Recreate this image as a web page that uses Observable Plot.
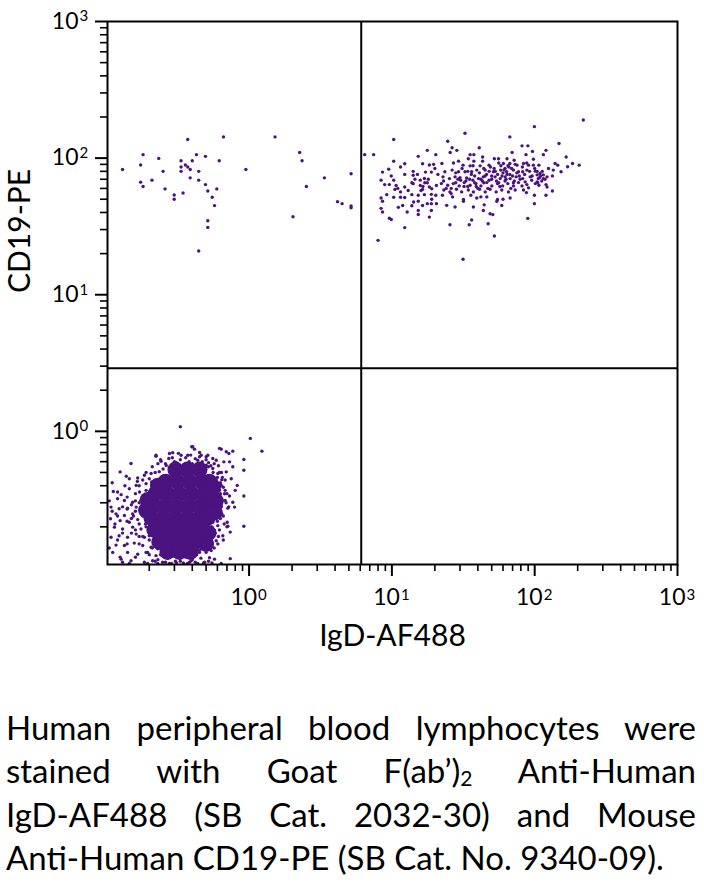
<!DOCTYPE html>
<html>
<head>
<meta charset="utf-8">
<script src="https://cdn.jsdelivr.net/npm/d3@7"></script>
<script src="https://cdn.jsdelivr.net/npm/@observablehq/plot@0.6"></script>
<style>
  html, body { margin: 0; padding: 0; background: #fff; }
  #chart svg { display: block; }
  .cap { width: 690px; margin: 42px 0 0 6px; font-family: Lato, sans-serif; font-size: 33px; line-height: 43.3px; color: #000; }
  .cap div { height: 43.3px; text-align: justify; text-align-last: justify; white-space: nowrap; }
  .cap div.last { text-align-last: left; }
  .sub { font-size: 21px; line-height: 0; vertical-align: -3px; }
</style>
</head>
<body>
<div id="chart"></div>
<div class="cap">
  <div>Human peripheral blood lymphocytes were</div>
  <div>stained with Goat F(ab’)<span class="sub">2</span> Anti-Human</div>
  <div>IgD-AF488 (SB Cat. 2032-30) and Mouse</div>
  <div class="last">Anti-Human CD19-PE (SB Cat. No. 9340-09).</div>
</div>
<script>
// ---- axis / tick values ----
const xDomain = [0.102, 1000];
const yDomain = [0.106, 1000];
const majorTicks = [1, 10, 100, 1000];
const minorTicks = [0.2,0.3,0.4,0.5,0.6,0.7,0.8,0.9, 2,3,4,5,6,7,8,9, 20,30,40,50,60,70,80,90, 200,300,400,500,600,700,800,900];
const xLabelValues = [1, 10, 100, 1000];
const yLabelValues = [1, 10, 100, 1000];
const labelExponents = ["0", "1", "2", "3"];
const gateX = 6.1;   // IgD gate
const gateY = 2.9;   // CD19 gate
const xTitle = "IgD-AF488";
const yTitle = "CD19-PE";

// ---- events: [IgD, CD19] ----
const upperLeft = [[0.13,82.6],[0.174,89],[0.181,106],[0.174,66.7],[0.181,62],[0.209,69],[0.233,99.5],[0.25,80],[0.258,59.5],[0.299,53.7],[0.299,50],[0.334,95.7],[0.334,86],[0.334,80],[0.345,55.6],[0.358,89],[0.372,137],[0.372,86],[0.387,82.6],[0.387,71.7],[0.40,95.7],[0.428,106],[0.444,80],[0.444,69],[0.444,20.9],[0.495,103],[0.495,64],[0.514,57.5],[0.514,34.8],[0.514,31.1],[0.552,51.7],[0.573,44.9],[0.594,59.5],[0.618,95.7],[0.662,143],[0.95,82.6],[1.52,143],[2.03,37.2],[2.26,110],[2.35,95.7],[2.52,62],[3.37,71.7],[4.16,48],[4.48,46.4],[5.18,76.8],[5.18,44.7],[5.18,43.3]];

const upperRight = [
[10.3,137],[6.45,106],[7.45,106],[15.3,103],[17.7,114],[20.3,106],[10.3,95],[12.3,91],[11.5,86],[8.6,79],[9.5,83],[14.1,80],[16.4,91],[18.3,89],[19.6,90],[9.9,74],[12.3,76],[14.1,75],[15.1,76],[17.2,79],[18.9,79],[8.4,69],[10.3,69],[13.8,66],[15.8,69],[16.9,71],[17.7,66],[18.3,61.5],[8.9,64],[9.6,64],[10.7,63],[11,60],[11.5,56.6],[10.5,59],[12.3,61.5],[14.1,65],[16.4,59],[15.8,63],[19,59.6],[20.5,63],[9.2,54],[8.4,51],[10.3,51.7],[11.5,51.7],[12.3,51.5],[13.8,54],[15.3,53.5],[16.9,54],[18.9,54.3],[20.3,53.5],[8.6,48.3],[14.2,47.7],[15.3,48.3],[17.7,46.4],[18.9,46.4],[20.5,46.4],[8.4,42.9],[11.1,43.6],[11.9,45],[13.8,44.8],[16.4,45],[8.6,40.3],[12.8,40.3],[15.3,41.4],[18.9,41.4],[15.3,38.7],[9.6,36.3],[9.9,35.5],[18.3,37],[12.3,31],[8,25],
[32.5,152],[24.6,133],[67,143],[26.4,119],[28.5,114],[40.9,119],[25.6,110],[35.3,106],[37.5,106],[43.2,102],[69.5,110],[29.3,95],[34.3,99],[37.5,95],[43.2,95],[52.2,99],[55.8,99],[64,99],[71.8,96.5],[22.4,91.4],[31.5,88.8],[35.3,87.8],[41.5,87.8],[47.9,88.8],[60.4,91.4],[67,91.4],[75.2,88.8],[23.5,79.4],[26.4,81.7],[29.3,79.4],[32.5,79.4],[36.2,79.4],[39.3,81.7],[45,81.7],[51.4,79.4],[57.8,81.7],[63.6,79.4],[71,81.7],[77,79.4],[22.8,72.9],[25.3,70.8],[27.7,72.9],[30.3,68.9],[33.4,71.6],[36.9,68.9],[40.4,70.8],[43.7,72.9],[47.9,68.9],[52.8,72.9],[57.3,70.8],[62.1,72.9],[67.3,70.8],[74.2,72.9],[22.2,65.1],[24.6,63.3],[26.9,65.1],[29.6,62.6],[32.1,66.2],[35.3,63.3],[38.8,65.1],[42,62.6],[46.2,66.2],[50.1,62.6],[54.9,65.1],[59.7,62.6],[64.8,65.1],[71,62.6],[77,66.2],[23.1,58.4],[25.5,56.6],[28.3,59.2],[30.8,56.6],[34.3,58.4],[37.2,56.6],[41.1,59.2],[45,56.6],[48.7,59.2],[53.7,56.6],[58.8,58.4],[65.5,56.6],[73,58.4],[22.6,53.5],[26.6,52],[31.7,49.8],[35.7,53.5],[39.3,51.1],[46.2,52],[54.9,49.8],[67.3,51.1],[24.2,45.1],[27.7,43.9],[31.7,48.3],[37.2,43.9],[44.3,45.5],[54.3,48.3],[58.8,45],[43.7,41.4],[48.7,39.2],[50.9,38.6],[36.2,35.2],[34.8,32.5],[25.5,32.5],[47.2,33.1],[52.2,26.9],[31.5,18.2],[89.5,36.2],
[219,190],[99.5,170],[148,128],[81.5,123],[89.6,123],[96.5,112],[120,114],[86.9,106],[115,106],[166,102],[98,98],[83.5,91.4],[90.5,88.8],[98,88.8],[107,88.8],[139,91.4],[145,88.8],[184,91.4],[205,88.8],[170,86.4],[82.4,79.4],[88.1,81.7],[101,80.3],[104,75.4],[109,77.2],[115,75.4],[135,81.7],[153,79.4],[82.4,70.8],[93,72.9],[106,70.8],[122,72.9],[133,74.1],[85.8,67],[95.3,68.9],[104,67],[115,70.8],[81.5,62.6],[88.1,64],[101,65.1],[107,63.3],[120,64],[83.5,58.4],[90.5,60.6],[87.5,55.9],[122,61.5],[133,57.4],[99.5,53.5],[120,53.5],[99.5,46.4],
[58,88],[62,84],[66,86],[60,78],[64,76],[70,74],[55,76],[52,84],[48,80],[45,74],[42,70],[38,66],[34,62],[40,60],[30,72],[28,66],[26,60],[33,68],[36,76],[44,66],[50,70],[56,66],[62,68],[68,60],[72,68],[78,74],[17,66],[16.5,62],[18,70],[16,58],[108,72],[112,68],[110,74],[104,80],[118,70],
[20,84],[21,76],[23,68],[24,60],[27,92],[28,78],[29,70],[31,84],[32,62],[34,80],[35,70],[37,88],[38,74],[39,62],[41,78],[43,68],[44,84],[46,76],[47,60],[49,86],[50,74],[53,80],[54,68],[56,92],[57,62],[59,74],[61,82],[63,70],[65,88],[67,76],[69,84],[71,66],[73,90],[75,78],[79,70],[82,86],[85,76],[88,92],[92,80],[96,74],[100,84],[105,66],[113,80],[125,84],[14.5,70],[13,58],[19,50],[26,55],[42,52],[60,50]
];

// dense core of the double-negative population (drawn as large overlapping dots)
const lowerLeftCore = [
[0.305,0.525],[0.370,0.525],[0.450,0.525],
[0.260,0.428],[0.315,0.428],[0.382,0.428],[0.464,0.428],[0.528,0.428],
[0.221,0.349],[0.268,0.349],[0.325,0.349],[0.395,0.349],[0.480,0.349],[0.546,0.349],
[0.214,0.285],[0.260,0.285],[0.315,0.285],[0.382,0.285],[0.464,0.285],[0.546,0.285],
[0.207,0.233],[0.251,0.233],[0.305,0.233],[0.370,0.233],[0.450,0.233],[0.512,0.233],
[0.217,0.190],[0.263,0.190],[0.320,0.190],[0.388,0.190],[0.464,0.190],
[0.235,0.155],[0.286,0.155],[0.347,0.155],[0.421,0.155],
[0.268,0.131],[0.325,0.131],[0.388,0.131],
[0.585,0.31],[0.575,0.255],[0.19,0.265],[0.195,0.315],[0.52,0.18],[0.56,0.39],[0.23,0.4],[0.5,0.15]
];

const lowerLeftSpread = [
[0.33,1.08],[0.292,0.697],[0.223,0.669],[0.242,0.604],[0.149,0.581],[0.274,0.633],[0.125,0.505],[0.138,0.469],[0.166,0.456],[0.185,0.477],[0.206,0.491],[0.208,0.426],[0.162,0.402],[0.145,0.38],[0.112,0.363],[0.127,0.344],[0.171,0.36],[0.12,0.321],[0.134,0.312],[0.153,0.303],[0.175,0.312],[0.108,0.279],[0.123,0.271],[0.141,0.274],[0.162,0.279],[0.117,0.249],[0.134,0.242],[0.153,0.249],[0.175,0.253],[0.107,0.229],[0.125,0.222],[0.145,0.216],[0.166,0.226],[0.114,0.199],[0.13,0.193],[0.153,0.199],[0.175,0.193],[0.108,0.168],[0.123,0.172],[0.141,0.168],[0.162,0.177],[0.185,0.168],[0.117,0.147],[0.134,0.146],[0.157,0.152],[0.18,0.146],[0.206,0.142],[0.111,0.13],[0.141,0.13],[0.166,0.126],[0.195,0.13],[0.223,0.123],[0.127,0.116],[0.149,0.113],[0.185,0.11],[0.211,0.113],[0.145,0.108],[0.195,0.108],[0.229,0.108],[0.248,0.11],[0.277,0.108],
[1.02,0.888],[1.23,0.716],[0.638,0.741],[0.692,0.709],[0.722,0.689],[0.769,0.716],[0.397,0.771],[0.415,0.741],[0.462,0.669],[0.514,0.669],[0.589,0.615],[0.666,0.598],[0.73,0.598],[0.919,0.622],[0.919,0.519],[0.769,0.55],[0.692,0.505],[0.644,0.443],[0.826,0.402],[0.80,0.37],[0.73,0.336],[0.919,0.336],[0.681,0.312],[0.769,0.303],[0.791,0.279],[0.71,0.274],[0.644,0.249],[0.703,0.216],[0.919,0.202],[0.71,0.202],[0.604,0.204],[0.738,0.183],[0.655,0.172],[0.589,0.158],[0.604,0.15],[0.543,0.134],[0.738,0.117],[0.573,0.116],[0.488,0.11],[0.437,0.108],[0.638,0.108],
[0.372,0.669],[0.437,0.615],[0.501,0.565],[0.557,0.534],[0.604,0.491],[0.589,0.438],[0.638,0.402],[0.621,0.37],[0.673,0.349],[0.621,0.321],[0.638,0.287],[0.604,0.263],[0.589,0.235],[0.557,0.216],[0.573,0.188],[0.528,0.177],[0.501,0.158],[0.488,0.142],[0.45,0.13],[0.415,0.123],[0.393,0.113],[0.528,0.119],
[0.223,0.658],[0.277,0.689],[0.334,0.669],[0.403,0.771],[0.45,0.651],[0.501,0.651],[0.557,0.633],[0.621,0.75],
[0.305,0.112],[0.347,0.109],[0.382,0.11],[0.286,0.108],[0.33,0.118],
[0.19,0.414],[0.185,0.338],[0.18,0.271],[0.188,0.21],[0.2,0.172],[0.229,0.138],[0.251,0.122],[0.235,0.507],[0.263,0.562],[0.30,0.6],
[0.24,0.62],[0.26,0.58],[0.29,0.64],[0.31,0.59],[0.33,0.62],[0.35,0.57],[0.36,0.64],[0.38,0.6],[0.40,0.58],[0.42,0.63],[0.44,0.57],[0.47,0.6],[0.49,0.55],[0.52,0.59],[0.54,0.56],[0.28,0.55],[0.32,0.69],[0.39,0.67],[0.45,0.7],[0.50,0.62],[0.25,0.53],[0.57,0.58],[0.41,0.55],[0.46,0.53],[0.34,0.55],
[0.56,0.5],[0.6,0.46],[0.58,0.41],[0.63,0.42],[0.57,0.38],[0.66,0.39],[0.6,0.33],[0.58,0.3],[0.65,0.31],[0.62,0.27],[0.57,0.25],[0.6,0.22],[0.66,0.24],[0.55,0.2],[0.58,0.18],[0.62,0.19],[0.53,0.16],[0.57,0.14],[0.7,0.35],[0.68,0.44],[0.72,0.28],[0.64,0.5],[0.61,0.56],[0.75,0.45],[0.7,0.2],[0.66,0.16],
[0.24,0.125],[0.27,0.118],[0.3,0.122],[0.33,0.112],[0.36,0.12],[0.4,0.115],[0.43,0.125],[0.46,0.118],[0.5,0.13],[0.52,0.112],[0.26,0.11],[0.31,0.109],[0.37,0.108],[0.42,0.11],[0.48,0.109],[0.55,0.109],[0.22,0.112],[0.35,0.128],[0.45,0.135],[0.28,0.135],[0.4,0.135],
[0.19,0.5],[0.2,0.45],[0.18,0.44],[0.17,0.4],[0.19,0.37],[0.16,0.35],[0.18,0.33],[0.17,0.3],[0.15,0.29],[0.19,0.3],[0.16,0.26],[0.18,0.24],[0.15,0.23],[0.17,0.21],[0.19,0.2],[0.16,0.19],[0.18,0.17],[0.2,0.16],[0.17,0.15],[0.21,0.14],[0.19,0.13],[0.14,0.33],[0.14,0.27],[0.15,0.18],[0.21,0.55],[0.22,0.5],[0.23,0.58],
[0.105,0.31],[0.11,0.26],[0.12,0.36],[0.13,0.28],[0.115,0.21],[0.13,0.18],[0.12,0.16],[0.105,0.14],[0.125,0.12],[0.14,0.22],[0.135,0.4],[0.145,0.45],[0.11,0.42],[0.12,0.24],[0.14,0.15],[0.16,0.12],[0.13,0.11],
[0.65,0.46],[0.68,0.37],[0.63,0.35],[0.69,0.3],[0.64,0.28],[0.67,0.21],[0.63,0.23],[0.61,0.17],[0.6,0.41],[0.62,0.5],[0.55,0.15],[0.52,0.55],[0.16,0.31],[0.155,0.24],[0.165,0.43],[0.17,0.17],[0.2,0.125],[0.23,0.115]
];

const dotColor = "#4b137f";
const scatter = [...upperLeft, ...upperRight, ...lowerLeftSpread];

const chart = Plot.plot({
  width: 704,
  height: 664,
  marginLeft: 107,
  marginRight: 27,
  marginTop: 21,
  marginBottom: 100,
  style: { fontFamily: "Lato, sans-serif", color: "#000", background: "#fff", overflow: "visible" },
  x: { type: "log", domain: xDomain, axis: null },
  y: { type: "log", domain: yDomain, axis: null },
  marks: [
    Plot.dot(lowerLeftCore, { x: d => d[0], y: d => d[1], r: 8, fill: dotColor, stroke: "none" }),
    Plot.dot(scatter, { x: d => d[0], y: d => d[1], r: 1.7, fill: dotColor, stroke: "none" }),
    Plot.ruleX([gateX], { stroke: "#000", strokeWidth: 2 }),
    Plot.ruleY([gateY], { stroke: "#000", strokeWidth: 2 }),
    Plot.frame({ stroke: "#000", strokeWidth: 2 }),
    Plot.axisX({ ticks: minorTicks, anchor: "bottom", tickSize: 7, tickFormat: () => "", label: null, strokeWidth: 1.6 }),
    Plot.axisX({ ticks: majorTicks, anchor: "bottom", tickSize: 12, tickFormat: () => "", label: null, strokeWidth: 2 }),
    Plot.axisY({ ticks: minorTicks, anchor: "left", tickSize: 7, tickFormat: () => "", label: null, strokeWidth: 1.6 }),
    Plot.axisY({ ticks: majorTicks, anchor: "left", tickSize: 12, tickFormat: () => "", label: null, strokeWidth: 2 }),
    // x tick labels 10^n
    Plot.text(xLabelValues, { x: d => d, text: () => "10", frameAnchor: "bottom", dy: 40, dx: 8, textAnchor: "end", fontSize: 23, fill: "#000" }),
    Plot.text(xLabelValues, { x: d => d, text: (d, i) => labelExponents[i], frameAnchor: "bottom", dy: 35, dx: 9, textAnchor: "start", fontSize: 15, fill: "#000" }),
    // y tick labels 10^n
    Plot.text(yLabelValues, { y: d => d, text: () => "10", frameAnchor: "left", dx: -29, textAnchor: "end", fontSize: 23, fill: "#000" }),
    Plot.text(yLabelValues, { y: d => d, text: (d, i) => labelExponents[i], frameAnchor: "left", dx: -28, dy: -5, textAnchor: "start", fontSize: 15, fill: "#000" }),
    // axis titles
    Plot.text([xTitle], { frameAnchor: "bottom", dy: 81, fontSize: 30, fill: "#000" }),
    Plot.text([yTitle], { frameAnchor: "left", dx: -87, rotate: -90, fontSize: 30, fill: "#000" })
  ]
});
document.getElementById("chart").appendChild(chart);
</script>
</body>
</html>
